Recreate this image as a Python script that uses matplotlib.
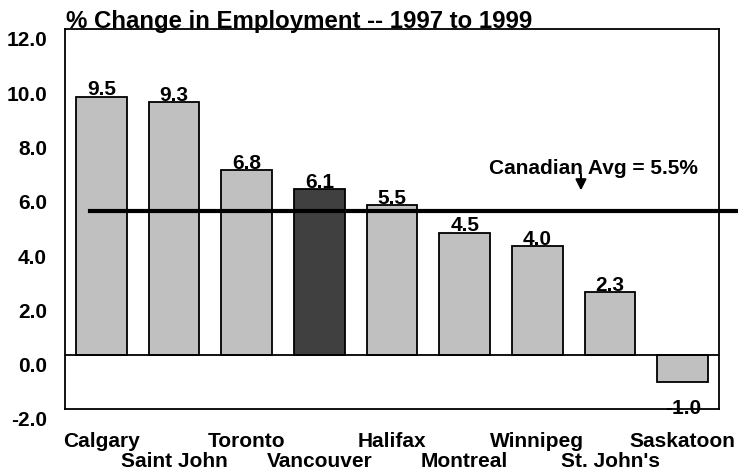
import matplotlib
matplotlib.use("Agg")
import matplotlib.pyplot as plt
import matplotlib.transforms as mtransforms

cities = ["Calgary", "Saint John", "Toronto", "Vancouver", "Halifax",
          "Montreal", "Winnipeg", "St. John's", "Saskatoon"]
changes = [9.5, 9.3, 6.8, 6.1, 5.5, 4.5, 4.0, 2.3, -1.0]
highlight = "Vancouver"
canadian_avg = 5.5
avg_line_level = 5.3
yticks = [-2.0, 0.0, 2.0, 4.0, 6.0, 8.0, 10.0, 12.0]
title = "% Change in Employment -- 1997 to 1999"

plt.rcParams['font.family'] = ['Liberation Sans', 'DejaVu Sans']
plt.rcParams['font.weight'] = 'bold'
FS = 15

fig = plt.figure(figsize=(7.38, 4.72), dpi=100)
ax = fig.add_axes([0.0881, 0.1335, 0.9743 - 0.0881, 0.9386 - 0.1335])

x = list(range(len(cities)))
colors = ['#404040' if c == highlight else '#c0c0c0' for c in cities]
ax.bar(x, changes, width=0.7, color=colors, edgecolor='black', linewidth=1.3, zorder=2)
ax.axhline(0, color='black', lw=1.3, zorder=3)

ax.set_xlim(-0.5, len(cities) - 0.5)
ax.set_ylim(-2, 12)
ax.set_yticks(yticks)
ax.set_yticklabels([f"{v:.1f}" for v in yticks], fontsize=FS, fontweight='bold')
ax.tick_params(axis='y', length=0, pad=13)
off = mtransforms.ScaledTranslation(0, -0.10, fig.dpi_scale_trans)
for lab in ax.get_yticklabels():
    lab.set_transform(lab.get_transform() + off)
ax.set_xticks([])
for s in ax.spines.values():
    s.set_linewidth(1.3)

# value labels
for xi, v in zip(x, changes):
    if v >= 0:
        ax.text(xi, v + 0.05, f"{v:.1f}", ha='center', va='baseline',
                fontsize=FS, fontweight='bold', zorder=4)
    else:
        ax.text(xi, -2.0, f"{v:.1f}", ha='center', va='center',
                fontsize=FS, fontweight='bold', clip_on=False, zorder=4)

# staggered category labels
for xi, c in zip(x, cities):
    yoff = -0.085 if xi % 2 == 0 else -0.138
    ax.text(xi, yoff, c, transform=ax.get_xaxis_transform(), ha='center', va='center',
            fontsize=FS, fontweight='bold', clip_on=False)

# Canadian average line (extends past right spine to edge)
ax.plot([-0.15, 9.5], [avg_line_level, avg_line_level], color='black', lw=3,
        clip_on=False, zorder=5)
ax.text(5.33, 6.87, f"Canadian Avg = {canadian_avg}%", ha='left', va='center',
        fontsize=FS, fontweight='bold', zorder=6)
ax.annotate("", xy=(6.6, 5.95), xytext=(6.6, 6.75),
            arrowprops=dict(arrowstyle='-|>', color='black', lw=1.5,
                            mutation_scale=16), zorder=7)

fig.text(66 / 738, 1 - 28 / 472, title, ha='left', va='baseline',
         fontsize=17.3, fontweight='bold')

fig.savefig("out.png", dpi=100)
